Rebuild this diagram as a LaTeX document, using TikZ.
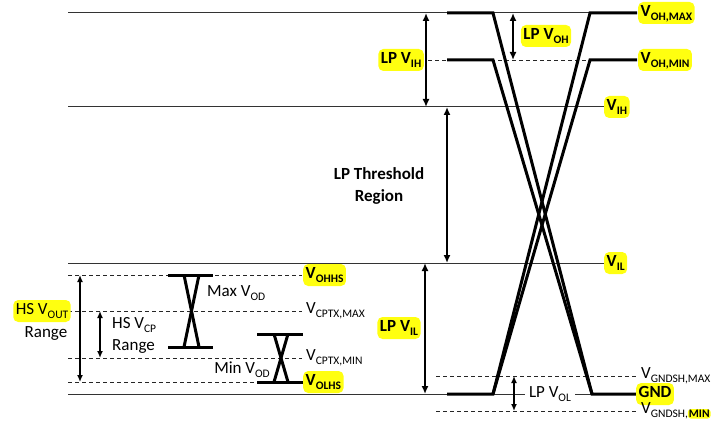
\documentclass[tikz,border=0pt]{standalone}
\usepackage{fontspec}
\setmainfont{Carlito}
\usetikzlibrary{arrows.meta}
\definecolor{hly}{HTML}{FFFF10}
\newcommand\lsub[1]{\raisebox{-0.22em}{\fontsize{11.5}{12}\selectfont #1}}
\newcommand\hlpart[1]{\tikz[baseline=(hp.base)]\node[fill=hly,rounded corners=3pt,inner sep=1pt](hp){#1};}
\tikzset{
  base/.style={font=\fontsize{17}{20}\selectfont},
  basebold/.style={font=\fontsize{17}{20}\selectfont\bfseries},
  thinline/.style={line width=1pt, black!80},
  dashline/.style={line width=0.9pt, black!85, dash pattern=on 4pt off 3pt},
  wave/.style={line width=3pt, line cap=butt, line join=miter},
  dim/.style={line width=2pt, {Latex[length=8pt,width=7pt]}-{Latex[length=8pt,width=7pt]}},
  dimthin/.style={line width=1.4pt, {Latex[length=7pt,width=6pt]}-{Latex[length=7pt,width=6pt]}},
  hlbox/.style={fill=hly, rounded corners=5pt, inner xsep=2.5pt, text height=12pt, text depth=5pt, inner ysep=2.5pt},
  hl/.style={base, hlbox},
  hlb/.style={basebold, hlbox},
  lbl/.style={base, inner sep=1pt},
  lblb/.style={basebold, inner sep=1pt},
}
\begin{document}
\begin{tikzpicture}[x=1pt,y=-1pt]
\useasboundingbox (0,0) rectangle (712,425);
% thin solid levels
\draw[thinline] (68,13) -- (637,13);
\draw[thinline] (68,107) -- (604,107);
\draw[thinline] (68,263) -- (604,263);
\draw[thinline] (68,394) -- (636,394);
% dashed levels
\draw[dashline] (428,60) -- (590,60);
\draw[dashline] (68,275) -- (302,275);
\draw[dashline] (68,311) -- (302,311);
\draw[dashline] (68,358) -- (302,358);
\draw[dashline] (68,382) -- (302,382);
\draw[dashline] (436,376) -- (637,376);
\draw[dashline] (436,411) -- (637,411);
% waveforms
\draw[wave] (447,13) -- (493,13) -- (592,394) -- (637,394);
\draw[wave] (447,60) -- (493,60) -- (592,394);
\draw[wave] (447,394) -- (493,394) -- (590,13) -- (637,13);
\draw[wave] (493,394) -- (590,60) -- (637,60);
% HS eyes
\draw[wave] (168,275) -- (213,275);
\draw[wave] (168,347) -- (213,347);
\draw[wave] (184,275) -- (199,347);
\draw[wave] (199,275) -- (184,347);
\draw[wave] (257,334) -- (303,334);
\draw[wave] (257,382) -- (303,382);
\draw[wave] (274,334) -- (288,382);
\draw[wave] (288,334) -- (274,382);
% arrow end coordinates
\coordinate (vihT) at (426,13);   \coordinate (vihB) at (426,107);
\coordinate (vohT) at (513,13);   \coordinate (vohB) at (513,60);
\coordinate (thrT) at (447,107);  \coordinate (thrB) at (447,263);
\coordinate (vilT) at (425,263);  \coordinate (vilB) at (425,394);
\coordinate (volT) at (514,376);  \coordinate (volB) at (514,411);
\coordinate (voutT) at (80,275);  \coordinate (voutB) at (80,382);
\coordinate (vcpT) at (100,311);  \coordinate (vcpB) at (100,358);
\draw[dim] (vihT) -- (vihB);
\draw[dim] (vohT) -- (vohB);
\draw[dim] (thrT) -- (thrB);
\draw[dim] (vilT) -- (vilB);
\draw[dimthin] (volT) -- (volB);
\draw[dimthin] (voutT) -- (voutB);
\draw[dimthin] (vcpT) -- (vcpB);
% labels
\node[hlb, anchor=east] (lpvih) at (424,60) {LP V\lsub{IH}};
\node[hlb] (lpvoh) at (546,36) {LP V\lsub{OH}};
\node[hlb] (lpvil) at (399,328) {LP V\lsub{IL}};
\node[lbl, fill=white, inner xsep=4pt] (lpvol) at (550,394) {LP V\lsub{OL}};
\node[lblb, align=center] (thr) at (379,186) {LP Threshold\\[2pt]Region};
\node[hlb, anchor=west] (vohmax) at (638,13) {V\lsub{OH,MAX}};
\node[hlb, anchor=west] (vohmin) at (638,60) {V\lsub{OH,MIN}};
\node[hlb, anchor=west] (vih) at (604,107) {V\lsub{IH}};
\node[hlb, anchor=west] (vil) at (604,263) {V\lsub{IL}};
\node[hlb, anchor=west] (gnd) at (636,394) {GND};
\node[lbl, anchor=west] (vgmax) at (640,376) {V\lsub{GNDSH,MAX}};
\node[lbl, anchor=west] (vgmin) at (640,411) {V\lsub{GNDSH,\hlpart{\bfseries MIN}}};
\node[hlb, anchor=west] (vohhs) at (303,275) {V\lsub{OHHS}};
\node[lbl, anchor=west] (vcpmax) at (305,311) {V\lsub{CPTX,MAX}};
\node[lbl, anchor=west] (vcpmin) at (305,358) {V\lsub{CPTX,MIN}};
\node[hlb, anchor=west] (volhs) at (303,382) {V\lsub{OLHS}};
\node[hl] (hsvout) at (42,311) {HS V\lsub{OUT}};
\node[lbl] (hsrange) at (46,334) {Range};
\node[lbl, anchor=west] (hsvcp) at (111,325) {HS V\lsub{CP}};
\node[lbl, anchor=west] (vcprange) at (111,347) {Range};
\node[lbl, anchor=west] (maxvod) at (206,293) {Max V\lsub{OD}};
\node[lbl, anchor=east] (minvod) at (271,370) {Min V\lsub{OD}};
\end{tikzpicture}
\end{document}
